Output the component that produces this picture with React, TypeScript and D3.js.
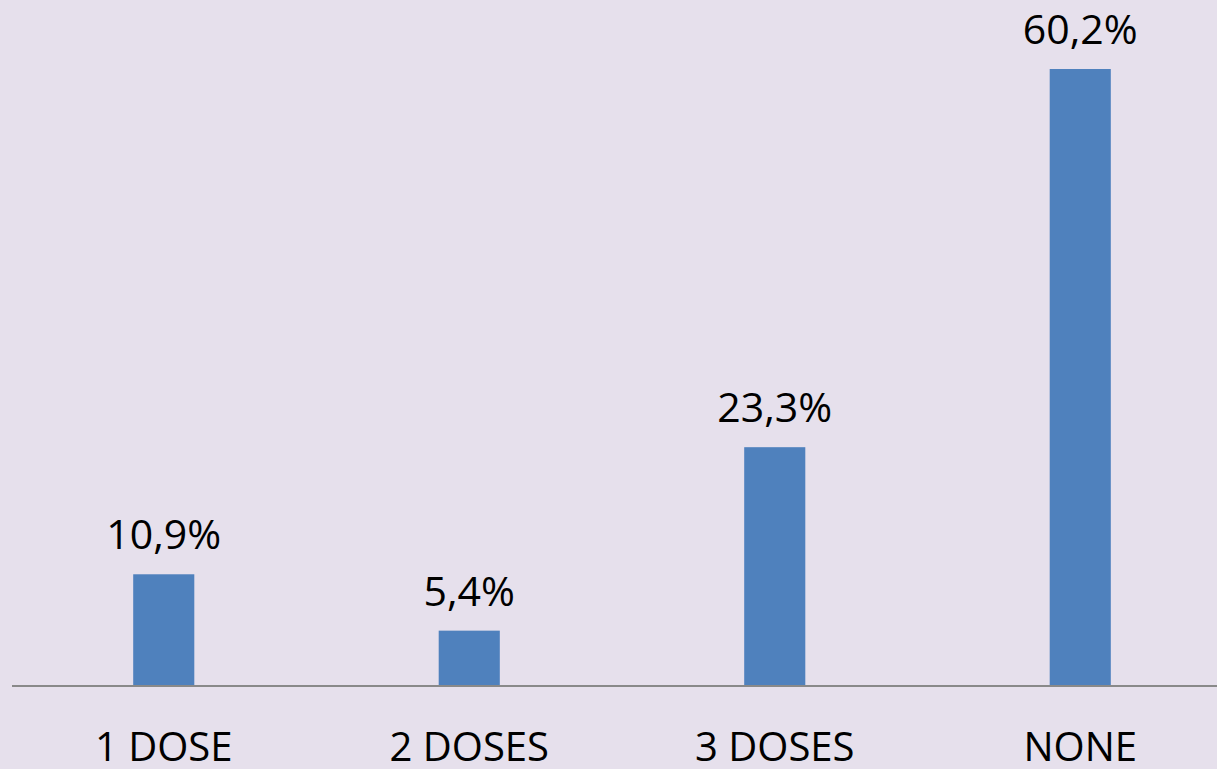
import React from "react";
import * as d3 from "d3";

const categories = ["1 DOSE", "2 DOSES", "3 DOSES", "NONE"];
const values = [10.9, 5.4, 23.3, 60.2];
const valueLabels = ["10,9%", "5,4%", "23,3%", "60,2%"];

const W = 1217;
const H = 769;
const baseline = 686;

export default function App() {
  const x = d3
    .scaleBand<string>()
    .domain(categories)
    .range([11, 1233])
    .paddingInner(0.8)
    .paddingOuter(0.4);
  const y = d3.scaleLinear().domain([0, 60.2]).range([baseline, 69]);
  const font = "'Open Sans', sans-serif";
  return (
    <svg
      width={W}
      height={H}
      style={{ position: "absolute", left: 0, top: 0, display: "block" }}
    >
      <rect x={0} y={0} width={W} height={H} fill="#E6E0EC" />
      {categories.map((c, i) => (
        <g key={c}>
          <rect
            x={x(c)}
            y={y(values[i])}
            width={x.bandwidth()}
            height={baseline - y(values[i])}
            fill="#4F81BD"
          />
          <text
            x={(x(c) as number) + x.bandwidth() / 2}
            y={y(values[i]) - 25}
            textAnchor="middle"
            fontFamily={font}
            fontSize={41}
            fill="#000"
          >
            {valueLabels[i]}
          </text>
          <text
            x={(x(c) as number) + x.bandwidth() / 2}
            y={761}
            textAnchor="middle"
            fontFamily={font}
            fontSize={40}
            fill="#000"
          >
            {c}
          </text>
        </g>
      ))}
      <line x1={12} x2={W} y1={baseline} y2={baseline} stroke="#898989" strokeWidth={2} />
    </svg>
  );
}
